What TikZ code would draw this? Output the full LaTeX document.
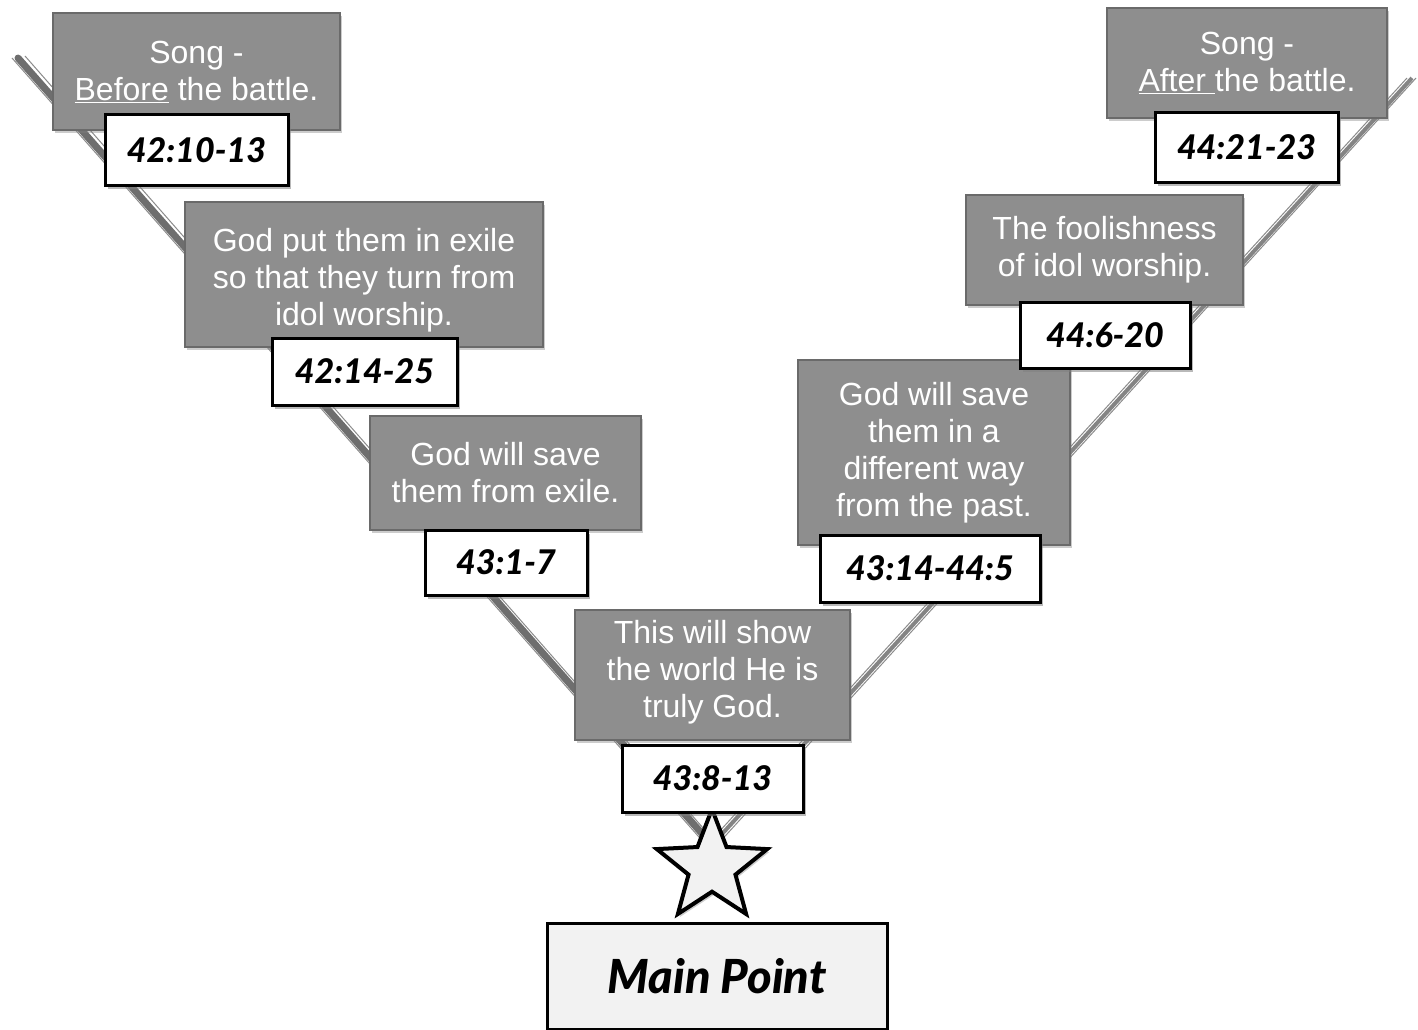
\documentclass[tikz,border=0pt]{standalone}
\usepackage{fontspec}
\setmainfont{Liberation Sans}
\newfontfamily\labfont{Lato}[BoldItalicFont={Lato Black Italic}]
\usetikzlibrary{shapes.geometric,shadows}
\definecolor{boxgray}{HTML}{8E8E8E}
\definecolor{linegray}{HTML}{6E6E6E}
\definecolor{mainfill}{HTML}{F2F2F2}
\begin{document}
\begin{tikzpicture}[x=1pt,y=-1pt,
  gbox/.style={fill=boxgray, draw=boxgray!75!black, line width=1.2pt, text=white, align=center,
    font=\fontsize{32}{37}\selectfont, inner sep=0pt,
    drop shadow={shadow xshift=2pt,shadow yshift=-3pt,opacity=0.4}},
  lbl/.style={fill=white, draw=black, line width=3pt, inner sep=0pt,
    font=\labfont\bfseries\itshape\fontsize{34}{40}\selectfont,
    drop shadow={shadow xshift=3pt,shadow yshift=-4pt,opacity=0.55}},
  vline/.style={draw=linegray, line width=7pt, line cap=round},
  vthin/.style={draw=linegray!80, line width=1pt},
  starstyle/.style={star, star points=5, star point ratio=2.35, minimum size=116pt, inner sep=0pt,
    draw=black, line width=4pt, fill=mainfill,
    drop shadow={shadow xshift=2pt,shadow yshift=-3pt,opacity=0.4}},
]
\useasboundingbox (0,0) rectangle (1418,1030);

\coordinate (tl) at (18,58);
\coordinate (tr) at (1412,78);
\coordinate (vc) at (712,845);

% V connectors (behind everything)
\draw[vline] (tl) -- (vc);
\draw[vthin] ([xshift=-6pt]tl) -- ([xshift=-6pt]vc);
\draw[vthin] ([xshift=7pt,yshift=2pt]tl) -- ([xshift=6pt]vc);
\draw[draw=linegray!85, line width=4pt] (tr) -- (vc);
\draw[vthin] ([xshift=4pt]tr) -- ([xshift=5pt]vc);
\draw[vthin] ([xshift=-5pt]tr) -- ([xshift=-5pt]vc);

% star at the foot of the V
\node[starstyle] (star) at (712,867) {};

% left arm
\node[gbox, minimum width=287pt, minimum height=117pt] (b1) at (196.5,71.5)
  {Song -\\\underline{Before} the battle.};
\node[lbl, minimum width=183pt, minimum height=70pt] (l1) at (196.5,150) {42:10-13};

\node[gbox, minimum width=358pt, minimum height=145pt] (b2) at (364,274.5)
  {\rule{0pt}{35pt}God put them in exile\\so that they turn from\\idol worship.};
\node[lbl, minimum width=185pt, minimum height=67pt] (l2) at (364.5,371.5) {42:14-25};

\node[gbox, minimum width=271pt, minimum height=114pt] (b3) at (505.5,473)
  {God will save\\them from exile.};
\node[lbl, minimum width=162pt, minimum height=65pt] (l3) at (506,562.5) {43:1-7};

% bottom
\node[gbox, minimum width=275pt, minimum height=130pt] (b4) at (712.5,675)
  {This will show\\the world He is\\truly God.\rule[-12pt]{0pt}{1pt}};
\node[lbl, minimum width=181pt, minimum height=67pt] (l4) at (712.5,778.5) {43:8-13};

% right arm
\node[gbox, minimum width=272pt, minimum height=185pt] (b5) at (934,452.5)
  {God will save\\them in a\\different way\\from the past.};
\node[lbl, minimum width=220pt, minimum height=67pt] (l5) at (930,568.5) {43:14-44:5};

\node[gbox, minimum width=277pt, minimum height=110pt] (b6) at (1104.5,250)
  {The foolishness\\of idol worship.};
\node[lbl, minimum width=170pt, minimum height=66pt] (l6) at (1105,335) {44:6-20};

\node[gbox, minimum width=280pt, minimum height=110pt] (b7) at (1247,63)
  {Song -\\\underline{After\ }the battle.};
\node[lbl, minimum width=183pt, minimum height=69pt] (l7) at (1246.5,147.5) {44:21-23};

% main point
\node[fill=mainfill, draw=black, line width=3pt, inner sep=0pt,
  minimum width=340pt, minimum height=106pt,
  font=\labfont\bfseries\itshape\fontsize{47}{54}\selectfont,
  drop shadow={shadow xshift=2pt,shadow yshift=-3pt,opacity=0.4}] (main) at (717,976) {Main Point};
\end{tikzpicture}
\end{document}
